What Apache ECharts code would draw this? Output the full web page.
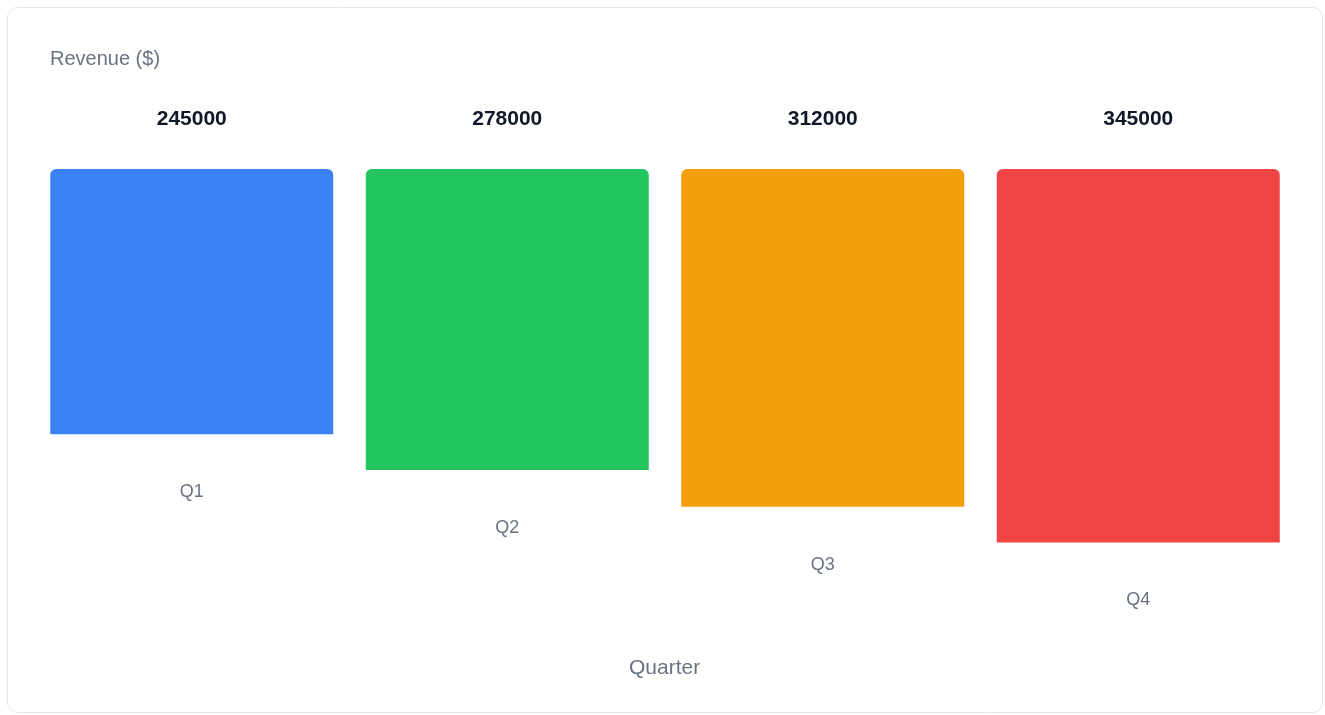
<!DOCTYPE html>
<html>
<head>
<meta charset="utf-8">
<script src="https://cdn.jsdelivr.net/npm/echarts@6/dist/echarts.min.js"></script>
<style>
html,body{margin:0;padding:0;background:#fff;}
#chart{width:1325px;height:715px;}
</style>
</head>
<body>
<div id="chart"></div>
<script>
const categories = ['Q1', 'Q2', 'Q3', 'Q4'];
const revenue = [245000, 278000, 312000, 345000];
const barColors = ['#3b82f6', '#22c55e', '#f59e0b', '#ef4444'];
const yTitle = 'Revenue ($)';
const xTitle = 'Quarter';

const FONT = '"Liberation Sans", Arial, Helvetica, sans-serif';
const chart = echarts.init(document.getElementById('chart'));
chart.setOption({
  animation: false,
  backgroundColor: '#ffffff',
  textStyle: { fontFamily: FONT },
  graphic: [{
    type: 'rect',
    z: -10,
    shape: { x: 7.5, y: 7.5, width: 1315, height: 705, r: 10 },
    style: { fill: '#ffffff', stroke: '#e5e7eb', lineWidth: 1 }
  }],
  title: [
    { text: yTitle, left: 50, top: 49, padding: 0,
      textStyle: { fontFamily: FONT, fontSize: 20, fontWeight: 'normal', color: '#6b7280' } },
    { text: xTitle, left: 629, top: 658, padding: 0,
      textStyle: { fontFamily: FONT, fontSize: 21, fontWeight: 'normal', color: '#6b7280' } }
  ],
  grid: { left: 34, right: 29, top: 169, height: 433 },
  xAxis: { type: 'category', data: categories, show: false },
  yAxis: { type: 'value', min: 0, max: 400000, inverse: true, show: false },
  series: [
    {
      type: 'bar',
      data: revenue.map((v, i) => ({ value: v, itemStyle: { color: barColors[i] } })),
      barCategoryGap: '10.3%',
      itemStyle: { borderRadius: [6, 6, 0, 0] },
      label: {
        show: true, position: 'top', distance: 39,
        fontFamily: FONT, fontSize: 21, fontWeight: 'bold', color: '#111827'
      }
    },
    {
      type: 'bar',
      data: revenue,
      barGap: '-100%',
      barCategoryGap: '10.3%',
      itemStyle: { color: 'rgba(0,0,0,0)' },
      silent: true,
      label: {
        show: true, position: 'bottom', distance: 49, formatter: '{b}',
        fontFamily: FONT, fontSize: 18, color: '#6b7280'
      }
    }
  ]
});
</script>
</body>
</html>
